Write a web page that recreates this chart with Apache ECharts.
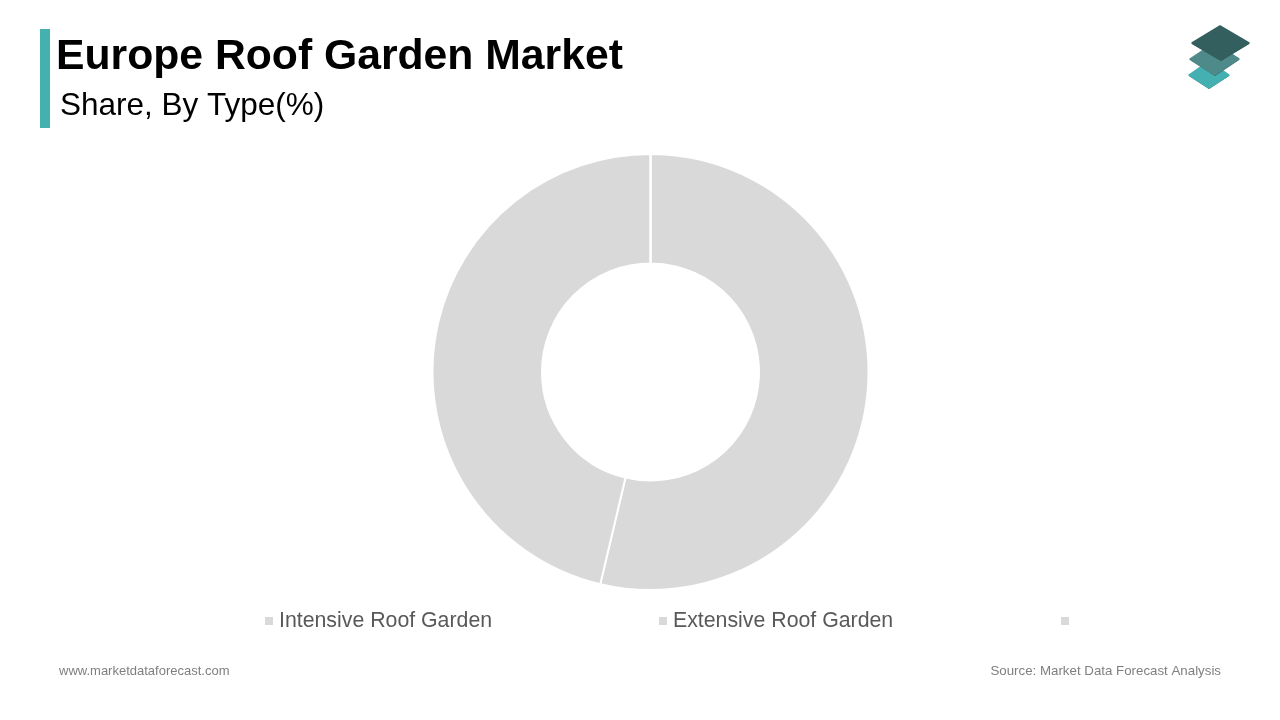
<!DOCTYPE html>
<html>
<head>
<meta charset="utf-8">
<style>
  html, body { margin: 0; padding: 0; background: #fff; }
  #main { width: 1280px; height: 720px; }
</style>
<script src="https://cdn.jsdelivr.net/npm/echarts@6/dist/echarts.min.js"></script>
</head>
<body>
<div id="main"></div>
<script>
const categories = ['Intensive Roof Garden', 'Extensive Roof Garden', ' '];
const shares = [53.7, 46.3, 0];
const sliceColors = ['#d9d9d9', '#d9d9d9', '#d9d9d9'];
const legendLefts = [265, 659, 1061];

const font = '"Liberation Sans", Arial, sans-serif';

const chart = echarts.init(document.getElementById('main'));

// logo tile: a dark copy 1px lower gives the thin edge under it
function tile(points, fill) {
  const shape = { points: points };
  const lower = { points: points.map(p => [p[0], p[1] + 1]) };
  return [
    { type: 'polygon', shape: lower, style: { fill: '#2a4f4e' } },
    { type: 'polygon', shape: shape, style: { fill: fill, stroke: fill, lineWidth: 1.5, lineJoin: 'round' } }
  ];
}

chart.setOption({
  animation: false,
  backgroundColor: '#ffffff',
  title: [
    { text: 'Europe Roof Garden Market', left: 56, top: 36, padding: 0,
      textStyle: { fontFamily: font, fontSize: 42.7, fontWeight: 'bold', color: '#000000' } },
    { text: 'Share, By Type(%)', left: 60, top: 90, padding: 0,
      textStyle: { fontFamily: font, fontSize: 31.5, fontWeight: 'normal', color: '#000000' } },
    { text: 'www.marketdataforecast.com', left: 59, top: 665, padding: 0,
      textStyle: { fontFamily: font, fontSize: 13, fontWeight: 'normal', color: '#7f7f7f' } },
    { text: 'Source: Market Data Forecast Analysis', right: 59, top: 665, padding: 0,
      textStyle: { fontFamily: font, fontSize: 13.3, fontWeight: 'normal', color: '#7f7f7f' } }
  ],
  // one legend per entry, they are spaced unevenly in the original
  legend: categories.map((name, i) => ({
    data: [name],
    left: legendLefts[i],
    top: 610.5,
    padding: 0,
    icon: 'rect',
    itemWidth: 8,
    itemHeight: 8,
    itemGap: 0,
    selectedMode: false,
    itemStyle: { borderWidth: 0 },
    textStyle: { fontFamily: font, fontSize: 21.3, color: '#595959', padding: [0, 0, 0, 1] }
  })),
  series: [{
    type: 'pie',
    center: [650.5, 372],
    radius: [108.5, 218],
    startAngle: 90,
    clockwise: true,
    silent: true,
    label: { show: false },
    labelLine: { show: false },
    itemStyle: { borderColor: '#ffffff', borderWidth: 2 },
    data: categories.map((name, i) => ({
      name: name,
      value: shares[i],
      itemStyle: { color: sliceColors[i] }
    }))
  }],
  graphic: [
    { type: 'rect', shape: { x: 40, y: 29, width: 10, height: 99 }, style: { fill: '#45b0b0' } }
  ]
    .concat(tile([[1209, 61], [1229, 75], [1209, 88], [1189, 75]], '#45b0b2'))
    .concat(tile([[1214, 43], [1239, 59], [1215, 75], [1190, 59]], '#4f8a8a'))
    .concat(tile([[1220, 26], [1249, 43], [1221, 60], [1192, 43]], '#33605f'))
});
</script>
</body>
</html>
